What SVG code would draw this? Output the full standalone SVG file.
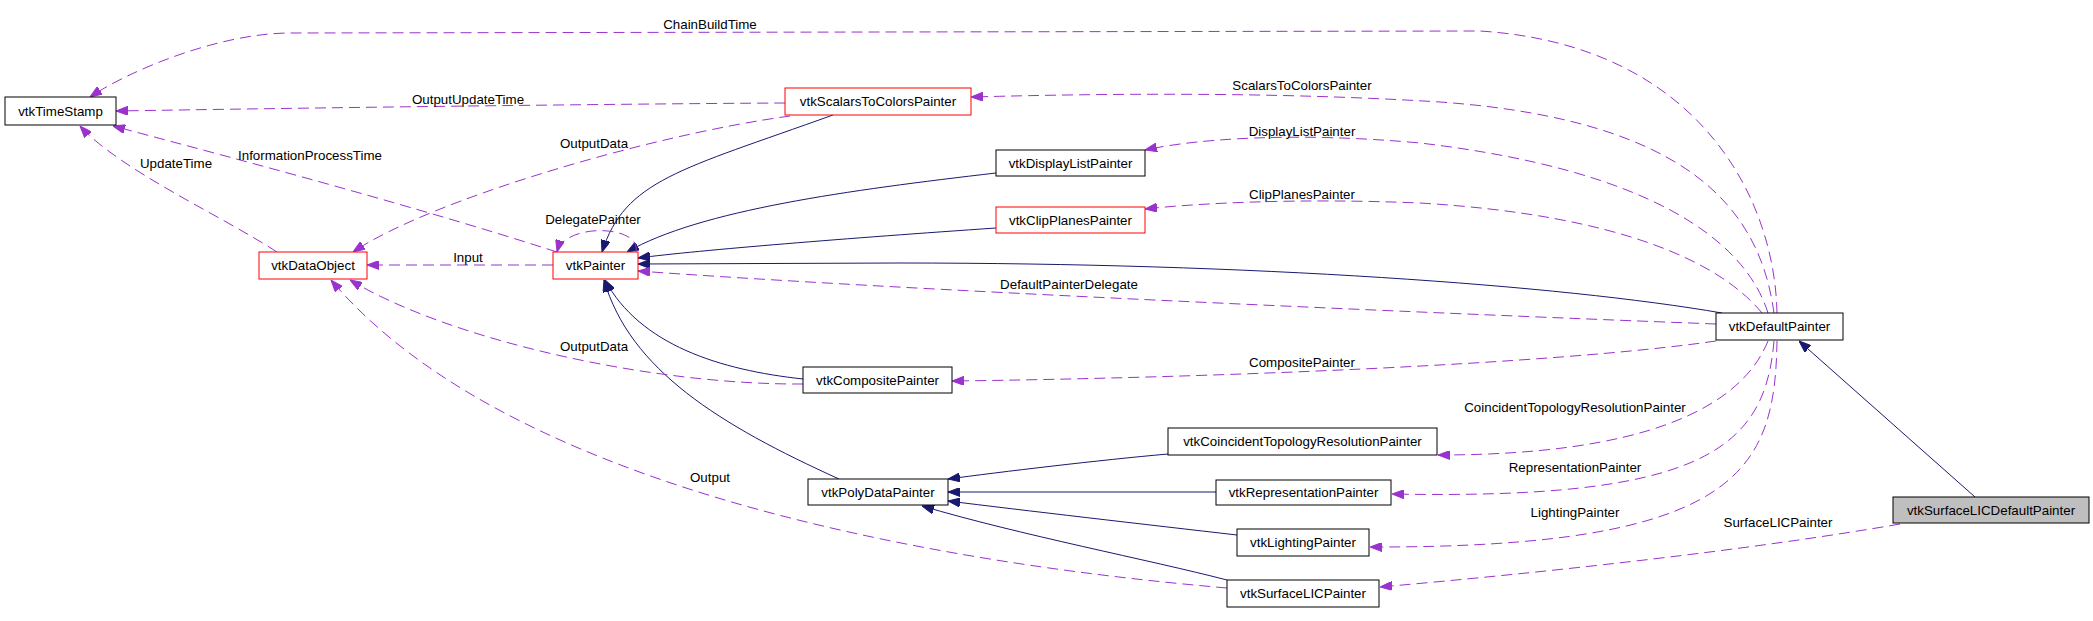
<svg xmlns="http://www.w3.org/2000/svg" width="2093" height="621" viewBox="0 0 2093 621">
<style>
  .node rect { fill: #ffffff; stroke: #000000; stroke-width: 1; }
  .node.red rect { stroke: #ff0000; }
  .node.sel rect { fill: #bfbfbf; }
  text { font-family: "Liberation Sans", Arial, sans-serif; font-size: 13.33px; fill: #000000; }
  .node text { text-anchor: middle; }
  .lbl { text-anchor: middle; }
  .inh { fill: none; stroke: #191970; stroke-width: 1; marker-end: url(#ah-navy); }
  .use { fill: none; stroke: #9a32cd; stroke-width: 1; stroke-dasharray: 11,6; marker-end: url(#ah-purple); }
</style>
<defs>
  <marker id="ah-navy" viewBox="0 0 12 9" markerWidth="12" markerHeight="9" refX="12" refY="4.5" orient="auto" markerUnits="userSpaceOnUse">
    <path d="M0,0 L12,4.5 L0,9 z" fill="#191970" stroke="#191970" stroke-dasharray="none"/>
  </marker>
  <marker id="ah-purple" viewBox="0 0 12 9" markerWidth="12" markerHeight="9" refX="12" refY="4.5" orient="auto" markerUnits="userSpaceOnUse">
    <path d="M0,0 L12,4.5 L0,9 z" fill="#9a32cd" stroke="#9a32cd" stroke-dasharray="none"/>
  </marker>
</defs>
<rect x="0" y="0" width="2093" height="621" fill="#ffffff"/>

<g id="connectors">
  <!-- inheritance -->
  <path class="inh" d="M833,115 C680,170 625,180 602,252"/>
  <path class="inh" d="M996,173 C850,190 700,210 627,252"/>
  <path class="inh" d="M996,228 C850,238 700,250 638,258"/>
  <path class="inh" d="M1722,313 C1560,285 1250,263 900,263 L638,264"/>
  <path class="inh" d="M803,379 C720,370 640,345 605,280"/>
  <path class="inh" d="M839,479 C720,425 630,370 604,280"/>
  <path class="inh" d="M1975,497 L1799,341"/>
  <path class="inh" d="M1168,454 C1100,460 1000,472 948,479"/>
  <path class="inh" d="M1216,492 L948,492"/>
  <path class="inh" d="M1237,535 C1150,525 1020,510 948,501"/>
  <path class="inh" d="M1227,580 C1150,560 1020,535 922,506"/>

  <!-- usage -->
  <path class="use" d="M1777,313 C1775,200 1700,45 1480,31 L290,33 C220,33 130,70 90,97"/>
  <path class="use" d="M785,103 C600,104 300,108 116,111"/>
  <path class="use" d="M557,252 C420,208 260,165 113,126"/>
  <path class="use" d="M277,252 C220,215 120,170 80,126"/>
  <path class="use" d="M790,116 C650,135 430,200 353,252"/>
  <path class="use" d="M553,265 L367,265"/>
  <path class="use" d="M636,252 C642,225 565,222 557,252"/>
  <path class="use" d="M1774,313 C1760,210 1690,120 1440,102 C1250,90 1050,95 971,97"/>
  <path class="use" d="M1768,313 C1745,240 1650,170 1420,143 C1300,132 1200,138 1145,150"/>
  <path class="use" d="M1762,313 C1720,262 1620,215 1420,203 C1300,198 1200,203 1145,209"/>
  <path class="use" d="M1716,324 C1400,312 900,290 638,271"/>
  <path class="use" d="M803,384 C650,385 450,340 350,280"/>
  <path class="use" d="M1227,588 C900,560 500,480 331,280"/>
  <path class="use" d="M1716,341 C1550,365 1200,378 952,381"/>
  <path class="use" d="M1768,341 C1740,410 1640,455 1438,455"/>
  <path class="use" d="M1774,341 C1765,450 1700,500 1392,494"/>
  <path class="use" d="M1777,341 C1775,470 1740,548 1370,547"/>
  <path class="use" d="M1900,524 C1750,550 1550,572 1380,587"/>

  <!-- labels -->
  <text class="lbl" x="710" y="29">ChainBuildTime</text>
  <text class="lbl" x="468" y="104">OutputUpdateTime</text>
  <text class="lbl" x="310" y="160">InformationProcessTime</text>
  <text class="lbl" x="176" y="168">UpdateTime</text>
  <text class="lbl" x="594" y="148">OutputData</text>
  <text class="lbl" x="593" y="224">DelegatePainter</text>
  <text class="lbl" x="468" y="262">Input</text>
  <text class="lbl" x="1302" y="90">ScalarsToColorsPainter</text>
  <text class="lbl" x="1302" y="136">DisplayListPainter</text>
  <text class="lbl" x="1302" y="199">ClipPlanesPainter</text>
  <text class="lbl" x="1069" y="289">DefaultPainterDelegate</text>
  <text class="lbl" x="1302" y="367">CompositePainter</text>
  <text class="lbl" x="594" y="351">OutputData</text>
  <text class="lbl" x="710" y="482">Output</text>
  <text class="lbl" x="1575" y="412">CoincidentTopologyResolutionPainter</text>
  <text class="lbl" x="1575" y="472">RepresentationPainter</text>
  <text class="lbl" x="1575" y="517">LightingPainter</text>
  <text class="lbl" x="1778" y="527">SurfaceLICPainter</text>
</g>

<g id="node-vtkTimeStamp" class="node"><rect x="5" y="97" width="111" height="28"/><text x="60.5" y="116">vtkTimeStamp</text></g>
<g id="node-vtkDataObject" class="node red"><rect x="259" y="252" width="108" height="27"/><text x="313" y="270">vtkDataObject</text></g>
<g id="node-vtkPainter" class="node red"><rect x="553" y="252" width="85" height="27"/><text x="595.5" y="270">vtkPainter</text></g>
<g id="node-vtkScalarsToColorsPainter" class="node red"><rect x="785" y="88" width="186" height="27"/><text x="878" y="106">vtkScalarsToColorsPainter</text></g>
<g id="node-vtkDisplayListPainter" class="node"><rect x="996" y="150" width="149" height="26"/><text x="1070.5" y="168">vtkDisplayListPainter</text></g>
<g id="node-vtkClipPlanesPainter" class="node red"><rect x="996" y="207" width="149" height="26"/><text x="1070.5" y="225">vtkClipPlanesPainter</text></g>
<g id="node-vtkDefaultPainter" class="node"><rect x="1716" y="313" width="127" height="27"/><text x="1779.5" y="331">vtkDefaultPainter</text></g>
<g id="node-vtkSurfaceLICDefaultPainter" class="node sel"><rect x="1893" y="497" width="196" height="26"/><text x="1991" y="515">vtkSurfaceLICDefaultPainter</text></g>
<g id="node-vtkCompositePainter" class="node"><rect x="803" y="367" width="149" height="26"/><text x="877.5" y="385">vtkCompositePainter</text></g>
<g id="node-vtkPolyDataPainter" class="node"><rect x="808" y="479" width="140" height="26"/><text x="878" y="497">vtkPolyDataPainter</text></g>
<g id="node-vtkCoincidentTopologyResolutionPainter" class="node"><rect x="1168" y="428" width="269" height="27"/><text x="1302.5" y="446">vtkCoincidentTopologyResolutionPainter</text></g>
<g id="node-vtkRepresentationPainter" class="node"><rect x="1216" y="480" width="175" height="25"/><text x="1303.5" y="497">vtkRepresentationPainter</text></g>
<g id="node-vtkLightingPainter" class="node"><rect x="1237" y="529" width="132" height="27"/><text x="1303" y="547">vtkLightingPainter</text></g>
<g id="node-vtkSurfaceLICPainter" class="node"><rect x="1227" y="580" width="152" height="27"/><text x="1303" y="598">vtkSurfaceLICPainter</text></g>
</svg>
